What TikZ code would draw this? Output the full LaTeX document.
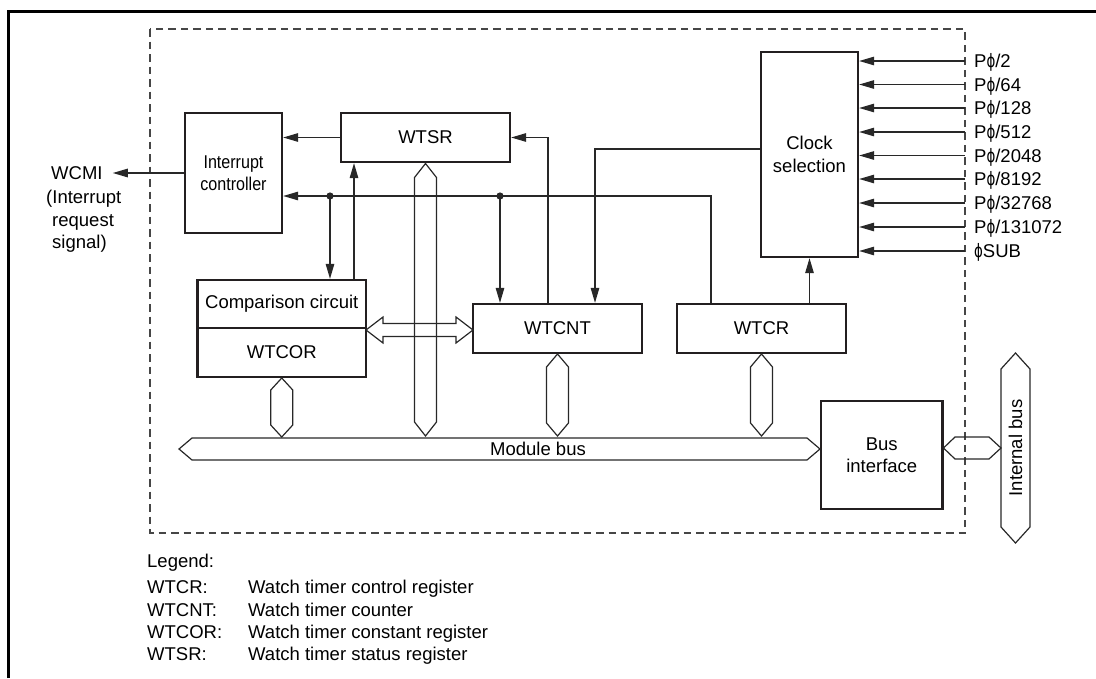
\documentclass[tikz,border=0pt]{standalone}
\usepackage{graphicx}
\usepackage{fontspec}
\setmainfont{Liberation Sans}
\newfontfamily\dejavu{DejaVu Sans}
\newfontfamily\narrowfont[FakeStretch=0.87]{Liberation Sans}
\usetikzlibrary{arrows.meta,calc}
\definecolor{ink}{RGB}{35,31,32}
\definecolor{wirec}{RGB}{40,40,40}
\definecolor{dashc}{RGB}{70,70,70}
\newcommand{\Pphi}{\scalebox{0.72}[1]{\dejavu ϕ}}
\newcommand{\vbus}[5]{% x, top, bottom, halfwidth, shoulder
  \draw[bus] (#1,#2) -- ({#1+#4},{#2+#5}) -- ({#1+#4},{#3-#5}) -- (#1,#3)
     -- ({#1-#4},{#3-#5}) -- ({#1-#4},{#2+#5}) -- cycle;}
\begin{document}
\begin{tikzpicture}[x=1pt,y=-1pt,
  font=\fontsize{18.5}{22.3}\selectfont,
  box/.style={draw=ink, line width=2.3pt, inner sep=0pt, align=center},
  wire/.style={draw=wirec, line width=1.2pt},
  arr/.style={wire, -{Triangle[length=15pt,width=8.5pt]}},
  bus/.style={draw=wirec, line width=1.2pt, line join=miter},
  lbl/.style={inner sep=0pt, text height=13.3pt, text depth=0pt},
]
\useasboundingbox (0,0) rectangle (1096,678);

% outer frame (top and left edges visible)
\draw[line width=3pt, black] (8,678) -- (8,11) -- (1096,11);

% dashed module boundary
\draw[draw=dashc, line width=1.1pt, dash pattern=on 7.5pt off 5pt] (150,29) rectangle (965,533);

% blocks
\node[box, minimum width=97pt, minimum height=120pt,
      font={\narrowfont\fontsize{18.5}{22.3}\selectfont}] (ic) at (233.5,173) {Interrupt\\controller};
\node[box, minimum width=169pt, minimum height=49pt] (wtsr) at (425.5,137.5) {WTSR};
\node[box, minimum width=168.5pt, minimum height=48pt] (comp) at (281.75,304) {Comparison circuit};
\node[box, minimum width=168.5pt, minimum height=49pt] (wtcor) at (281.75,352.5) {WTCOR};
\node[box, minimum width=169pt, minimum height=49pt] (wtcnt) at (557.5,328.5) {WTCNT};
\node[box, minimum width=169pt, minimum height=49pt] (wtcr) at (761.5,328.5) {WTCR};
\node[box, minimum width=97pt, minimum height=205pt] (clk) at (809.5,154.5) {Clock\\selection};
\node[box, minimum width=121.5pt, minimum height=108pt] (bi) at (881.75,455) {Bus\\interface};

% WCMI output
\node[lbl, anchor=west] (wcmi) at (51,173) {WCMI};
\node[lbl, anchor=west] (wcm1) at (46,197) {(Interrupt};
\node[lbl, anchor=west] (wcm2) at (52,219.5) {request};
\node[lbl, anchor=west] (wcm3) at (52,242) {signal)};
\draw[arr, shorten >=10pt] (ic.west) -- (wcmi.east);

% helper coordinates
\coordinate (j1) at (330,196);
\coordinate (j2) at (500,196);
\coordinate (xA) at (711,0);
\coordinate (xB) at (354,0);
\coordinate (xC) at (548,0);
\coordinate (xD) at (595,0);
\coordinate (yD) at (0,149);

% connectors
\draw[arr] (wtsr.west) -- (wtsr.west -| ic.east);
\draw[arr] (wtcr.north -| xA) |- (ic.east |- j1);
\draw[arr] (j1) -- (j1 |- comp.north);
\draw[arr] (j2) -- (j2 |- wtcnt.north);
\fill[wirec] (j1) circle (3.6pt);
\fill[wirec] (j2) circle (3.6pt);
\draw[arr] (comp.north -| xB) -- (wtsr.south -| xB);
\draw[arr] (wtcnt.north -| xC) |- (wtsr.east);
\draw[arr] (clk.west |- yD) -| (wtcnt.north -| xD);
\draw[arr] (wtcr.north -| clk.south) -- (clk.south);

% clock inputs
\foreach \t/\y [count=\i] in {{P\Pphi/2}/61, {P\Pphi/64}/84.5, {P\Pphi/128}/108, {P\Pphi/512}/132,
    {P\Pphi/2048}/155.5, {P\Pphi/8192}/179, {P\Pphi/32768}/203, {P\Pphi/131072}/227, {\Pphi SUB}/251}{
  \node[lbl, anchor=west] (p\i) at (974,\y) {\t};
  \draw[arr, shorten <=9pt] (p\i.west) -- (clk.east |- p\i.west);
}

% buses
\vbus{425.5}{163.5}{436}{11}{14}
\vbus{281.75}{378}{437}{11}{12}
\vbus{557.5}{354}{436}{11}{13}
\vbus{761.5}{354}{436}{11}{13}
\vbus{1015.5}{353}{543}{14.5}{16}
\draw[bus] (179,449) -- (192,438) -- (807,438) -- (820,449) -- (807,460) -- (192,460) -- cycle;
\draw[bus] (943.5,448) -- (955,437) -- (989,437) -- (1001,448) -- (989,459) -- (955,459) -- cycle;
\draw[bus] (366,330) -- (383,317) -- (383,323.5) -- (456,323.5) -- (456,317) -- (473,330)
   -- (456,343) -- (456,336.5) -- (383,336.5) -- (383,343) -- cycle;
\node[lbl] (mb) at (538,449) {Module bus};
\node[lbl, rotate=90] (ib) at (1015.5,448) {Internal bus};

% legend
\node[lbl, anchor=west] (lg) at (147,561) {Legend:};
\node[lbl, anchor=west] (lg1) at (147,587) {WTCR:};
\node[lbl, anchor=west] (lg2) at (147,609.5) {WTCNT:};
\node[lbl, anchor=west] (lg3) at (147,632) {WTCOR:};
\node[lbl, anchor=west] (lg4) at (147,654) {WTSR:};
\node[lbl, anchor=west] (ld1) at (248,587) {Watch timer control register};
\node[lbl, anchor=west] (ld2) at (248,609.5) {Watch timer counter};
\node[lbl, anchor=west] (ld3) at (248,632) {Watch timer constant register};
\node[lbl, anchor=west] (ld4) at (248,654) {Watch timer status register};
\end{tikzpicture}
\end{document}
